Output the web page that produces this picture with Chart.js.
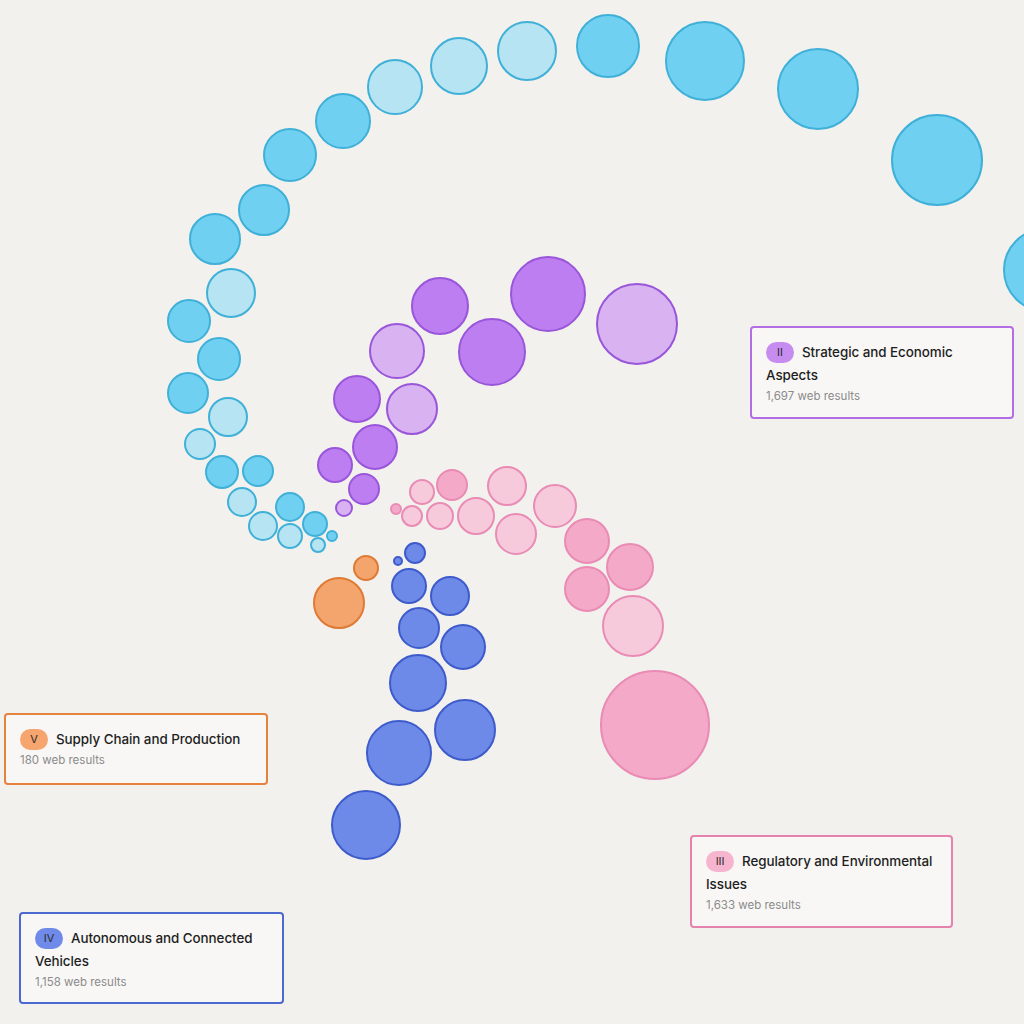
<!DOCTYPE html>
<html>
<head>
<meta charset="utf-8">
<script src="https://cdn.jsdelivr.net/npm/chart.js@4.4.1/dist/chart.umd.min.js"></script>
<style>
  html, body { margin: 0; padding: 0; background: #f3f1ed; }
  #wrap { position: relative; width: 1024px; height: 1024px; overflow: hidden; background: #f3f1ed; }
  #bubbles { position: absolute; left: 0; top: 0; }
  .card {
    position: absolute; box-sizing: border-box; background: #f8f7f5;
    border: 2px solid; border-radius: 4px; padding: 13px 8px 0 14px;
    font-family: Inter, "Noto Sans", sans-serif;
  }
  .card .title { font-size: 13.4px; font-weight: 500; color: #1e1e1e; line-height: 23px; letter-spacing: -0.05px; }
  .card .badge {
    display: inline-block; width: 28px; height: 21px; border-radius: 11px;
    text-align: center; font-size: 11px; font-weight: 400; line-height: 21px; margin-right: 8px;
    color: #2a2a2a; vertical-align: top; margin-top: 1px;
  }
  .card .count { font-size: 11.5px; color: #8b8b8b; line-height: 19px; }
</style>
</head>
<body>
<div id="wrap">
  <canvas id="bubbles" width="1024" height="1024"></canvas>
</div>
<script>
// blob centres / radii (pixel units)
const cyanX = [1045, 937, 818, 705, 608, 527, 459, 395, 343, 290, 264, 215, 231, 189, 219, 188, 228, 200, 222, 258, 242, 290, 263, 315, 290, 318, 332];
const cyanY = [270, 160, 89, 61, 46, 51, 66, 87, 121, 155, 210, 239, 293, 321, 359, 393, 417, 444, 472, 471, 502, 507, 526, 524, 536, 545, 536];
const cyanR = [42, 46, 41, 40, 32, 30, 29, 28, 28, 27, 26, 26, 25, 22, 22, 21, 20, 16, 17, 16, 15, 15, 15, 13, 13, 8, 6];
const cyanLight = [0, 0, 0, 0, 0, 1, 1, 1, 0, 0, 0, 0, 1, 0, 0, 0, 1, 1, 0, 0, 1, 0, 1, 0, 1, 1, 0];

const purpleX = [637, 548, 492, 440, 397, 357, 412, 375, 335, 364, 344];
const purpleY = [324, 294, 352, 306, 351, 399, 409, 447, 465, 489, 508];
const purpleR = [41, 38, 34, 29, 28, 24, 26, 23, 18, 16, 9];
const purpleLight = [1, 0, 0, 0, 1, 0, 1, 0, 0, 0, 1];

const pinkX = [396, 412, 422, 452, 440, 476, 507, 516, 555, 587, 630, 587, 633, 655];
const pinkY = [509, 516, 492, 485, 516, 516, 486, 534, 506, 541, 567, 589, 626, 725];
const pinkR = [6, 11, 13, 16, 14, 19, 20, 21, 22, 23, 24, 23, 31, 55];
const pinkLight = [0, 1, 1, 0, 1, 1, 1, 1, 1, 0, 0, 0, 1, 0];

const blueX = [398, 415, 409, 450, 419, 463, 418, 465, 399, 366];
const blueY = [561, 553, 586, 596, 628, 647, 683, 730, 753, 825];
const blueR = [5, 11, 18, 20, 21, 23, 29, 31, 33, 35];

const orangeX = [366, 339];
const orangeY = [568, 603];
const orangeR = [13, 26];

// legend cards
const groupNumerals = ["II", "V", "III", "IV"];
const groupNames = ["Strategic and Economic Aspects", "Supply Chain and Production", "Regulatory and Environmental Issues", "Autonomous and Connected Vehicles"];
const groupCounts = ["1,697", "180", "1,633", "1,158"];

function points(xs, ys, rs) {
    return xs.map((x, i) => ({ x: x, y: ys[i], r: rs[i] - 1 }));
}

function blobSet(name, xs, ys, rs, light, full, pale, edge) {
    return {
        label: name,
        data: points(xs, ys, rs),
        backgroundColor: ctx => (light && light[ctx.dataIndex]) ? pale : full,
        borderColor: edge,
        borderWidth: 2,
        clip: false
    };
}

new Chart(document.getElementById("bubbles").getContext("2d"), {
    type: "bubble",
    data: {
        datasets: [
            blobSet("Strategic and Economic Aspects", cyanX, cyanY, cyanR, cyanLight, "#70d0f1", "#b6e4f3", "#3fb0d8"),
            blobSet("Strategic and Economic Aspects (core)", purpleX, purpleY, purpleR, purpleLight, "#bd7ef1", "#d8b2f1", "#9956da"),
            blobSet("Regulatory and Environmental Issues", pinkX, pinkY, pinkR, pinkLight, "#f4a9c8", "#f7cadb", "#e98bb4"),
            blobSet("Autonomous and Connected Vehicles", blueX, blueY, blueR, null, "#6e8ae8", "#6e8ae8", "#3e5bcb"),
            blobSet("Supply Chain and Production", orangeX, orangeY, orangeR, null, "#f4a56d", "#f4a56d", "#de7a33")
        ]
    },
    options: {
        responsive: false,
        animation: false,
        devicePixelRatio: 1,
        events: [],
        layout: { padding: 0, autoPadding: false },
        scales: {
            x: { type: "linear", min: 0, max: 1024, display: false },
            y: { type: "linear", min: 0, max: 1024, reverse: true, display: false }
        },
        plugins: {
            legend: { display: false },
            tooltip: { enabled: false }
        }
    }
});

// cards: left, top, width, height, border colour, badge colour
const cardBoxes = [
    [750, 326, 264, 93, "#b36ee6", "#c78cf0"],
    [4, 713, 264, 72, "#e4823e", "#f5a56d"],
    [690, 835, 263, 93, "#e682ae", "#f6b4cf"],
    [19, 912, 265, 92, "#4c69d0", "#6f8ae8"]
];

const wrap = document.getElementById("wrap");
cardBoxes.forEach((b, i) => {
    let card = document.createElement("div");
    card.className = "card";
    card.style.left = b[0] + "px";
    card.style.top = b[1] + "px";
    card.style.width = b[2] + "px";
    card.style.height = b[3] + "px";
    card.style.borderColor = b[4];
    card.innerHTML = '<div class="title"><span class="badge" style="background:' + b[5] + '">' +
        groupNumerals[i] + '</span>' + groupNames[i] + '</div>' +
        '<div class="count">' + groupCounts[i] + ' web results</div>';
    wrap.appendChild(card);
});
</script>
</body>
</html>
